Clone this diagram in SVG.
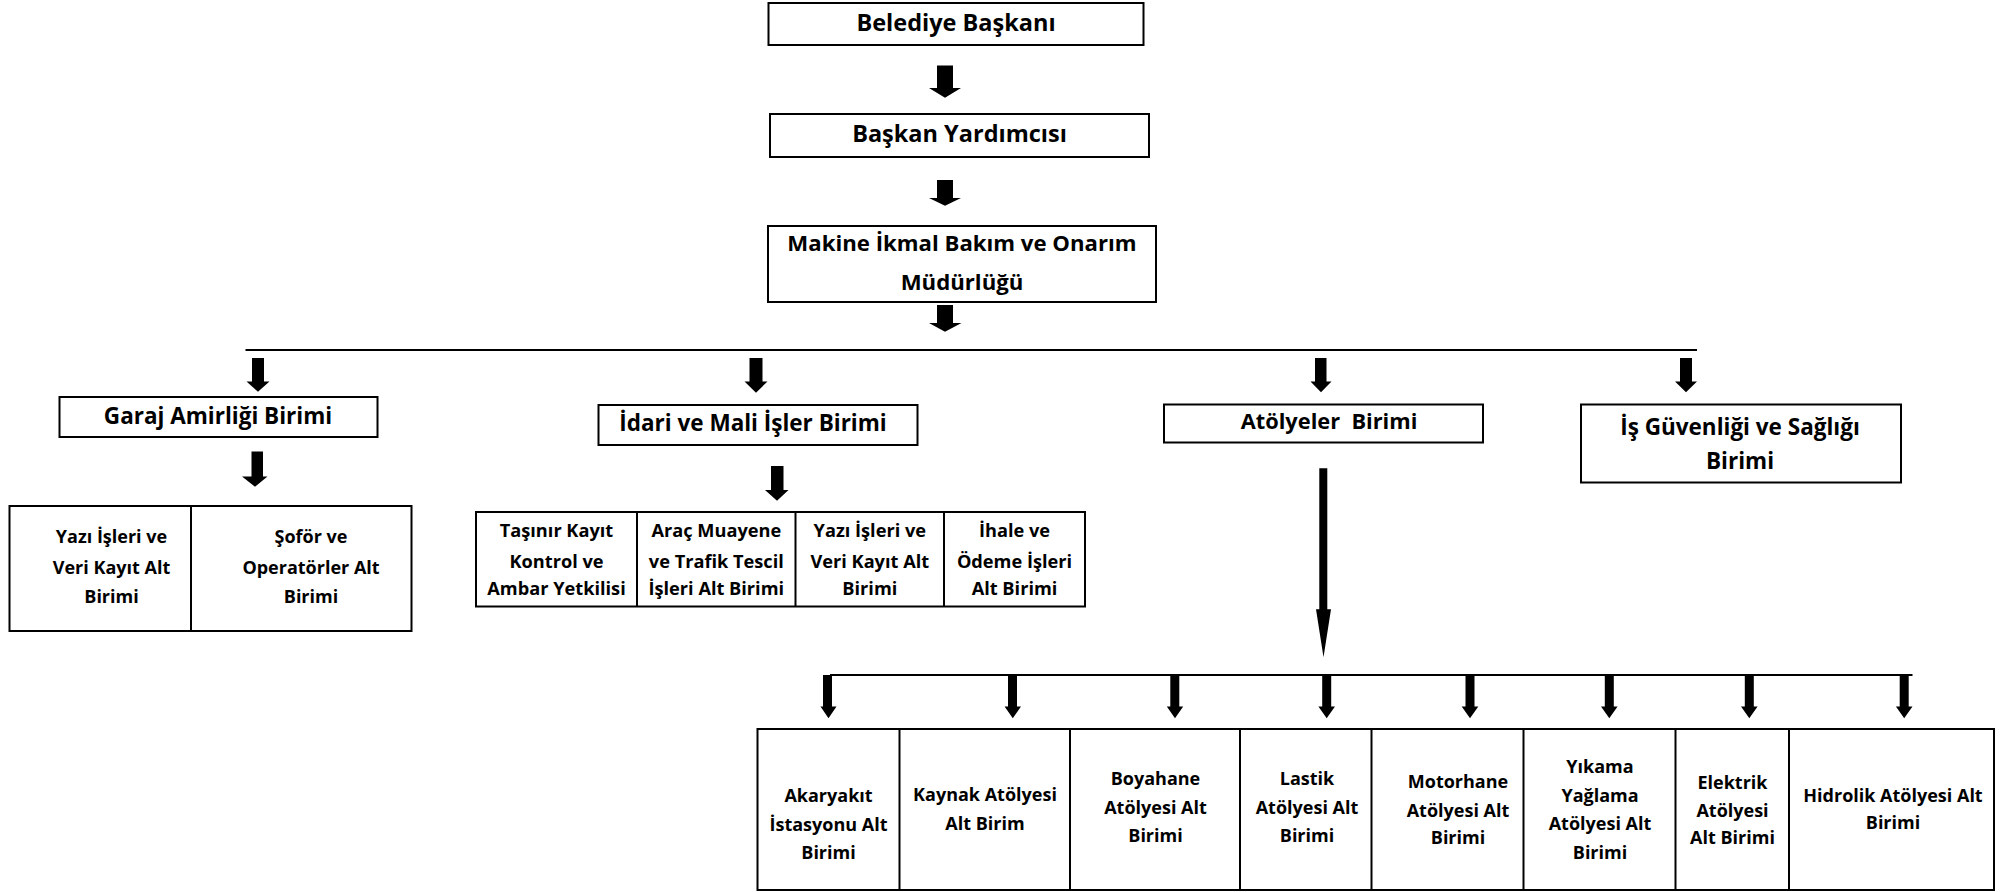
<svg xmlns="http://www.w3.org/2000/svg" width="2008" height="892" viewBox="0 0 2008 892">
  <style>
    .box { fill: #ffffff; stroke: #000000; stroke-width: 2; }
    .div { stroke: #000000; stroke-width: 2; }
    .bus { stroke: #000000; stroke-width: 2; fill: none; }
    .arr { fill: #000000; }
    text { font-family: "Open Sans", "Noto Sans", "Liberation Sans", sans-serif; font-weight: 700; fill: #000000; text-anchor: middle; }
    .t0 { font-size: 23.5px; }
    .t0s { font-size: 22.2px; }
    .t1 { font-size: 22.5px; }
    .t2 { font-size: 18px; }
    .t3 { font-size: 18.2px; }
  </style>
  <rect width="2008" height="892" fill="#ffffff"/>

  <!-- connectors: bars and block arrows -->
  <g id="connectors">
    <line class="bus" x1="245.5" y1="350" x2="1697" y2="350"/>
    <line class="bus" x1="830" y1="675" x2="1912.5" y2="675"/>
    <!-- top chain -->
    <path class="arr" d="M937 65.5 H953 V88 H961 L945 97.7 L929 88 H937 Z"/>
    <path class="arr" d="M937 180 H953 V198 H961 L945 205.7 L929 198 H937 Z"/>
    <path class="arr" d="M937 305 H953 V323 H961.5 L945 331.7 L929 323 H937 Z"/>
    <!-- bar to units -->
    <path class="arr" d="M252 358 H264 V381.5 H269.5 L258 391.7 L246.5 381.5 H252 Z"/>
    <path class="arr" d="M749.5 358 H762.5 V381.5 H767.5 L756 392.7 L744.5 381.5 H749.5 Z"/>
    <path class="arr" d="M1315 358 H1326.5 V381.5 H1331.5 L1321 392.3 L1310.5 381.5 H1315 Z"/>
    <path class="arr" d="M1680 358 H1692 V381.5 H1697 L1686 392.3 L1675 381.5 H1680 Z"/>
    <!-- units to sub-units -->
    <path class="arr" d="M251.5 451.5 H263 V476.5 H267.5 L255 486.7 L242 476.5 H251.5 Z"/>
    <path class="arr" d="M771 466 H783.5 V490 H788.5 L777 500.7 L765 490 H771 Z"/>
    <path class="arr" d="M1319.3 468.3 H1327.3 V609.3 H1331 L1323.5 657.3 L1316 609.3 H1319.3 Z"/>
    <!-- bar to workshops -->
    <path class="arr" d="M823 675 H832 V706.5 H836.5 L828.5 718.3 L820.5 706.5 H823 Z"/>
    <path class="arr" d="M1008 675 H1017 V706.5 H1021 L1012.8 718.3 L1004.6 706.5 H1008 Z"/>
    <path class="arr" d="M1170.3 675 H1179.3 V706.5 H1183.2 L1175 718.3 L1166.8 706.5 H1170.3 Z"/>
    <path class="arr" d="M1322.2 675 H1331.2 V706.5 H1335 L1326.7 718.3 L1318.4 706.5 H1322.2 Z"/>
    <path class="arr" d="M1465.5 675 H1474.5 V706.5 H1478.3 L1470 718.3 L1461.7 706.5 H1465.5 Z"/>
    <path class="arr" d="M1604.8 675 H1613.8 V706.5 H1617.6 L1609.3 718.3 L1601 706.5 H1604.8 Z"/>
    <path class="arr" d="M1744.8 675 H1753.8 V706.5 H1757.6 L1749.3 718.3 L1741 706.5 H1744.8 Z"/>
    <path class="arr" d="M1899.7 675 H1908.7 V706.5 H1912.5 L1904.2 718.3 L1895.9 706.5 H1899.7 Z"/>
  </g>

  <!-- top chain -->
  <g id="belediye-baskani">
    <rect class="box" x="768.5" y="3" width="375" height="42"/>
    <text class="t0" x="956" y="31">Belediye Başkanı</text>
  </g>
  <g id="baskan-yardimcisi">
    <rect class="box" x="770" y="114" width="379" height="43"/>
    <text class="t0" x="959.5" y="142">Başkan Yardımcısı</text>
  </g>
  <g id="mudurluk">
    <rect class="box" x="768" y="226" width="388" height="76"/>
    <text class="t0s" x="962" y="251">Makine İkmal Bakım ve Onarım</text>
    <text class="t0s" x="962" y="289.5">Müdürlüğü</text>
  </g>

  <!-- units -->
  <g id="garaj-amirligi">
    <rect class="box" x="59.5" y="397" width="318" height="40"/>
    <text class="t1" x="218" y="423.5">Garaj Amirliği Birimi</text>
  </g>
  <g id="idari-mali">
    <rect class="box" x="598.5" y="405" width="319" height="40"/>
    <text class="t1" x="753" y="431">İdari ve Mali İşler Birimi</text>
  </g>
  <g id="atolyeler">
    <rect class="box" x="1164" y="404.5" width="319" height="38"/>
    <text class="t1" x="1329" y="428.5" xml:space="preserve" style="font-size:21.8px">Atölyeler  Birimi</text>
  </g>
  <g id="is-guvenligi">
    <rect class="box" x="1581" y="404.5" width="320" height="78"/>
    <text class="t1" x="1740" y="434.5">İş Güvenliği ve Sağlığı</text>
    <text class="t1" x="1740" y="468.5">Birimi</text>
  </g>

  <!-- garage sub-units -->
  <g id="garaj-alt">
    <rect class="box" x="9.5" y="506" width="402" height="125"/>
    <line class="div" x1="191" y1="506" x2="191" y2="631"/>
    <g id="garaj-yazi">
      <text class="t2" x="111.5" y="543">Yazı İşleri ve</text>
      <text class="t2" x="111.5" y="573.5">Veri Kayıt Alt</text>
      <text class="t2" x="111.5" y="602.5">Birimi</text>
    </g>
    <g id="garaj-sofor">
      <text class="t2" x="311" y="543">Şoför ve</text>
      <text class="t2" x="311" y="573.5">Operatörler Alt</text>
      <text class="t2" x="311" y="602.5">Birimi</text>
    </g>
  </g>

  <!-- administrative sub-units -->
  <g id="idari-alt">
    <rect class="box" x="476" y="512" width="609" height="94.5"/>
    <line class="div" x1="637" y1="512" x2="637" y2="606.5"/>
    <line class="div" x1="795.5" y1="512" x2="795.5" y2="606.5"/>
    <line class="div" x1="944" y1="512" x2="944" y2="606.5"/>
    <g id="tasinir">
      <text class="t3" x="556.5" y="537">Taşınır Kayıt</text>
      <text class="t3" x="556.5" y="567.5">Kontrol ve</text>
      <text class="t3" x="556.5" y="595">Ambar Yetkilisi</text>
    </g>
    <g id="arac-muayene">
      <text class="t3" x="716.3" y="537">Araç Muayene</text>
      <text class="t3" x="716.3" y="567.5">ve Trafik Tescil</text>
      <text class="t3" x="716.3" y="595">İşleri Alt Birimi</text>
    </g>
    <g id="idari-yazi">
      <text class="t3" x="869.8" y="537">Yazı İşleri ve</text>
      <text class="t3" x="869.8" y="567.5">Veri Kayıt Alt</text>
      <text class="t3" x="869.8" y="595">Birimi</text>
    </g>
    <g id="ihale">
      <text class="t3" x="1014.5" y="537">İhale ve</text>
      <text class="t3" x="1014.5" y="567.5">Ödeme İşleri</text>
      <text class="t3" x="1014.5" y="595">Alt Birimi</text>
    </g>
  </g>

  <!-- workshop sub-units -->
  <g id="atolye-alt">
    <rect class="box" x="757.5" y="729" width="1236.5" height="161"/>
    <line class="div" x1="899.5" y1="729" x2="899.5" y2="890"/>
    <line class="div" x1="1070" y1="729" x2="1070" y2="890"/>
    <line class="div" x1="1240" y1="729" x2="1240" y2="890"/>
    <line class="div" x1="1371.5" y1="729" x2="1371.5" y2="890"/>
    <line class="div" x1="1523.5" y1="729" x2="1523.5" y2="890"/>
    <line class="div" x1="1675.5" y1="729" x2="1675.5" y2="890"/>
    <line class="div" x1="1789" y1="729" x2="1789" y2="890"/>
    <g id="akaryakit">
      <text class="t2" x="828.5" y="802">Akaryakıt</text>
      <text class="t2" x="828.5" y="831">İstasyonu Alt</text>
      <text class="t2" x="828.5" y="859">Birimi</text>
    </g>
    <g id="kaynak">
      <text class="t2" x="985" y="801">Kaynak Atölyesi</text>
      <text class="t2" x="985" y="830">Alt Birim</text>
    </g>
    <g id="boyahane">
      <text class="t2" x="1155.5" y="784.5">Boyahane</text>
      <text class="t2" x="1155.5" y="813.5">Atölyesi Alt</text>
      <text class="t2" x="1155.5" y="842">Birimi</text>
    </g>
    <g id="lastik">
      <text class="t2" x="1307" y="784.5">Lastik</text>
      <text class="t2" x="1307" y="813.5">Atölyesi Alt</text>
      <text class="t2" x="1307" y="842">Birimi</text>
    </g>
    <g id="motorhane">
      <text class="t2" x="1458" y="788">Motorhane</text>
      <text class="t2" x="1458" y="817">Atölyesi Alt</text>
      <text class="t2" x="1458" y="844">Birimi</text>
    </g>
    <g id="yikama">
      <text class="t2" x="1600" y="773">Yıkama</text>
      <text class="t2" x="1600" y="802">Yağlama</text>
      <text class="t2" x="1600" y="829.5">Atölyesi Alt</text>
      <text class="t2" x="1600" y="858.5">Birimi</text>
    </g>
    <g id="elektrik">
      <text class="t2" x="1732.5" y="788.5">Elektrik</text>
      <text class="t2" x="1732.5" y="817">Atölyesi</text>
      <text class="t2" x="1732.5" y="844">Alt Birimi</text>
    </g>
    <g id="hidrolik">
      <text class="t2" x="1893" y="802">Hidrolik Atölyesi Alt</text>
      <text class="t2" x="1893" y="828.5">Birimi</text>
    </g>
  </g>
</svg>
